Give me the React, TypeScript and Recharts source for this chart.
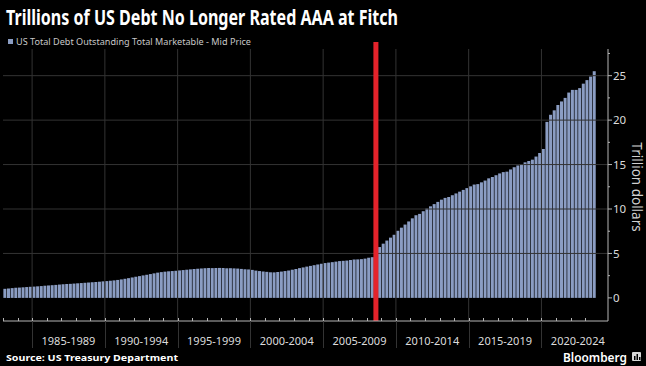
import React from "react";
import { BarChart, Bar, XAxis, YAxis, ReferenceLine } from "recharts";

// US total marketable debt, trillion dollars, one value per quarter from 1983Q1
const START_YEAR = 1983;
const debtTrillions = [
  1.02, 1.06, 1.1, 1.13, // 1983
  1.16, 1.19, 1.22, 1.25,
  1.27, 1.3, 1.33, 1.37, // 1985
  1.4, 1.43, 1.46, 1.5,
  1.53, 1.56, 1.58, 1.61,
  1.64, 1.67, 1.7, 1.73,
  1.76, 1.79, 1.82, 1.86,
  1.89, 1.93, 1.97, 2.02, // 1990
  2.08, 2.15, 2.22, 2.3,
  2.38, 2.45, 2.53, 2.6,
  2.68, 2.76, 2.84, 2.9,
  2.95, 2.99, 3.02, 3.05,
  3.09, 3.13, 3.17, 3.21, // 1995
  3.25, 3.28, 3.31, 3.34,
  3.36, 3.35, 3.36, 3.37,
  3.36, 3.33, 3.34, 3.32,
  3.3, 3.26, 3.22, 3.2,
  3.15, 3.07, 3.02, 2.97, // 2000
  2.93, 2.88, 2.87, 2.91,
  2.96, 3.02, 3.08, 3.17,
  3.25, 3.35, 3.43, 3.52,
  3.6, 3.68, 3.76, 3.84,
  3.92, 3.97, 4.02, 4.08, // 2005
  4.14, 4.17, 4.2, 4.26,
  4.32, 4.33, 4.36, 4.42,
  4.52, 4.58, 5.15, 5.72,
  6.1, 6.45, 6.78, 7.1,
  7.55, 7.9, 8.25, 8.6, // 2010
  8.95, 9.3, 9.45, 9.75,
  10.05, 10.3, 10.55, 10.8,
  11.05, 11.25, 11.35, 11.55,
  11.75, 11.95, 12.15, 12.35,
  12.55, 12.75, 12.8, 13.0, // 2015
  13.2, 13.45, 13.6, 13.8,
  14.0, 14.15, 14.2, 14.45,
  14.7, 14.9, 15.05, 15.25,
  15.4, 15.55, 15.9, 16.3,
  16.75, 19.8, 20.6, 21.1, // 2020
  21.7, 22.1, 22.5, 23.1,
  23.4, 23.4, 23.6, 24.1,
  24.5, 24.9, 25.5,
];

const quarterLabels = debtTrillions.map(
  (_, i) => `${START_YEAR + Math.floor(i / 4)}Q${(i % 4) + 1}`
);
const yearTicks = quarterLabels.filter((q) => q.endsWith("Q1"));
const periodStarts = [1985, 1990, 1995, 2000, 2005, 2010, 2015, 2020];
const periodLabels = [
  "1985-1989",
  "1990-1994",
  "1995-1999",
  "2000-2004",
  "2005-2009",
  "2010-2014",
  "2015-2019",
  "2020-2024",
];
const yTicks = [0, 2.5, 5, 7.5, 10, 12.5, 15, 17.5, 20, 22.5, 25, 27.5];
const gridValues = [5, 10, 15, 20, 25];
const markerQuarter = "2008Q3";

const data = quarterLabels.map((q, i) => ({ q, debt: debtTrillions[i] }));

const W = 646;
const H = 366;
const MARGIN = { top: 49, right: 0, bottom: 0, left: 3 };
const X_AXIS_H = 45;
const Y_AXIS_W = 38;
const PAD_RIGHT = 12;
const BAND = (W - MARGIN.left - Y_AXIS_W - PAD_RIGHT) / data.length;
const Y_DOMAIN: [number, number] = [-2.6, 28];

const FONT = "'Noto Sans', 'DejaVu Sans', sans-serif";
const BAR_COLOR = "#8b9dc3";
const AXIS_COLOR = "#b5b5b5";
const GRID_COLOR = "#333333";

const XTick = (props: any) => {
  const { x, y, payload } = props;
  const year = parseInt(String(payload.value).slice(0, 4), 10);
  const x0 = Math.round(x - BAND / 2) + 0.5;
  const idx = periodStarts.indexOf(year);
  return (
    <g>
      <line x1={x0} x2={x0} y1={y} y2={y - 3} stroke={AXIS_COLOR} strokeWidth={1} />
      {idx >= 0 && (
        <line x1={x0} x2={x0} y1={y} y2={y + 27} stroke={GRID_COLOR} strokeWidth={1} />
      )}
      {idx >= 0 && (
        <text
          x={x - BAND / 2 + BAND * 10}
          y={y + 24}
          textAnchor="middle"
          fill="#dcdcdc"
          fontSize={11}
          fontFamily={FONT}
        >
          {periodLabels[idx]}
        </text>
      )}
    </g>
  );
};

const YTick = (props: any) => {
  const { x, y, payload } = props;
  const major = payload.value % 5 === 0;
  return (
    <g>
      <line
        x1={x}
        x2={x + (major ? 4 : 2)}
        y1={y}
        y2={y}
        stroke={AXIS_COLOR}
        strokeWidth={1}
      />
      {major && (
        <text
          x={x + 5}
          y={y}
          dy="0.36em"
          fill="#dcdcdc"
          fontSize={11.5}
          fontFamily={FONT}
        >
          {payload.value}
        </text>
      )}
    </g>
  );
};

export default function App() {
  return (
    <div
      style={{
        position: "absolute",
        left: 0,
        top: 0,
        width: W,
        height: H,
        background: "#000",
        overflow: "hidden",
      }}
    >
      <BarChart
        width={W}
        height={H}
        data={data}
        margin={MARGIN}
        barCategoryGap="10%"
      >
        {gridValues.map((v) => (
          <ReferenceLine key={v} y={v} stroke={GRID_COLOR} strokeWidth={1} />
        ))}
        {periodStarts.map((yr) => (
          <ReferenceLine
            key={yr}
            x={`${yr}Q1`}
            position="start"
            stroke={GRID_COLOR}
            strokeWidth={1}
          />
        ))}
        <XAxis
          dataKey="q"
          ticks={yearTicks}
          interval={0}
          tickLine={false}
          tickSize={0}
          tickMargin={0}
          axisLine={{ stroke: AXIS_COLOR, strokeWidth: 1 }}
          padding={{ left: 0, right: PAD_RIGHT }}
          height={X_AXIS_H}
          tick={<XTick />}
        />
        <YAxis
          orientation="right"
          domain={Y_DOMAIN}
          ticks={yTicks}
          interval={0}
          tickLine={false}
          tickSize={0}
          tickMargin={0}
          axisLine={{ stroke: AXIS_COLOR, strokeWidth: 1 }}
          width={Y_AXIS_W}
          tick={<YTick />}
        />
        <Bar dataKey="debt" fill={BAR_COLOR} isAnimationActive={false} />
        <ReferenceLine
          stroke="#e5232b"
          strokeWidth={5}
          ifOverflow="visible"
          segment={[
            { x: markerQuarter, y: Y_DOMAIN[0] },
            { x: markerQuarter, y: 28.8 },
          ]}
        />
      </BarChart>
      <svg
        width={W}
        height={H}
        style={{ position: "absolute", left: 0, top: 0, pointerEvents: "none" }}
      >
        <text
          x={6}
          y={25}
          fill="#fff"
          fontSize={21}
          fontWeight="bold"
          fontFamily={FONT}
          textLength={392}
          lengthAdjust="spacingAndGlyphs"
        >
          Trillions of US Debt No Longer Rated AAA at Fitch
        </text>
        <rect x={8} y={39} width={5} height={5} fill={BAR_COLOR} />
        <text
          x={16}
          y={45}
          fill="#c8c8c8"
          fontSize={9.5}
          fontFamily={FONT}
          textLength={235}
          lengthAdjust="spacingAndGlyphs"
        >
          US Total Debt Outstanding Total Marketable - Mid Price
        </text>
        <text
          transform="translate(632, 187) rotate(90)"
          textAnchor="middle"
          fill="#d0d0d0"
          fontSize={13.5}
          fontFamily={FONT}
        >
          Trillion dollars
        </text>
        <text
          x={6}
          y={361}
          fill="#fff"
          fontSize={9.5}
          fontWeight="bold"
          fontFamily={FONT}
          textLength={172}
          lengthAdjust="spacingAndGlyphs"
        >
          Source: US Treasury Department
        </text>
        <text
          x={563}
          y={362}
          fill="#fff"
          fontSize={12.5}
          fontWeight={600}
          fontFamily={FONT}
          textLength={64}
          lengthAdjust="spacingAndGlyphs"
        >
          Bloomberg
        </text>
        <rect x={632} y={352} width={9} height={9} fill="#d8d8d8" rx={1} />
        <rect x={634} y={356} width={1.5} height={4} fill="#000" />
        <rect x={636.5} y={354} width={1.5} height={6} fill="#000" />
        <rect x={639} y={357} width={1.5} height={3} fill="#000" />
      </svg>
    </div>
  );
}
